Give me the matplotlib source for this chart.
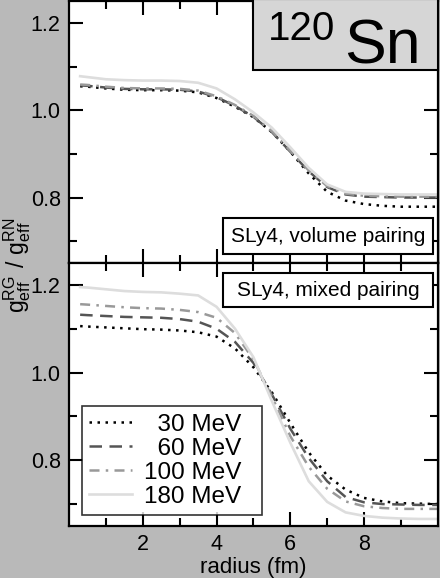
import numpy as np
import matplotlib
matplotlib.use("Agg")
import matplotlib.pyplot as plt
from matplotlib.patches import Rectangle

plt.rcParams['font.family'] = ['Liberation Sans', 'DejaVu Sans']
plt.rcParams['mathtext.fontset'] = 'custom'
plt.rcParams['mathtext.rm'] = 'Liberation Sans'

radius = [0.3, 0.5, 1.0, 1.5, 2.0, 2.5, 3.0, 3.5, 4.0, 4.5, 5.0, 5.5, 6.0,
          6.5, 7.0, 7.5, 8.0, 8.5, 9.0, 9.5, 10.0]

labels = ["  30 MeV  ", "  60 MeV  ", "100 MeV  ", "180 MeV  "]

# volume pairing
vol_30 = [1.055, 1.054, 1.050, 1.047, 1.046, 1.046, 1.045, 1.041, 1.028, 1.008,
          0.984, 0.950, 0.905, 0.855, 0.813, 0.793, 0.785, 0.781, 0.779, 0.779, 0.779]
vol_60 = [1.057, 1.056, 1.052, 1.049, 1.048, 1.048, 1.047, 1.043, 1.030, 1.010,
          0.985, 0.950, 0.905, 0.860, 0.824, 0.807, 0.802, 0.801, 0.800, 0.800, 0.800]
vol_100 = [1.059, 1.058, 1.054, 1.051, 1.050, 1.050, 1.049, 1.045, 1.032, 1.012,
           0.987, 0.952, 0.907, 0.862, 0.826, 0.809, 0.804, 0.803, 0.802, 0.802, 0.802]
vol_180 = [1.078, 1.076, 1.071, 1.069, 1.068, 1.068, 1.067, 1.063, 1.050, 1.025,
           0.995, 0.960, 0.915, 0.868, 0.830, 0.813, 0.809, 0.808, 0.807, 0.807, 0.807]

# mixed pairing
mix_30 = [1.106, 1.105, 1.103, 1.101, 1.099, 1.098, 1.096, 1.092, 1.082, 1.055,
          1.012, 0.955, 0.885, 0.818, 0.765, 0.733, 0.714, 0.706, 0.702, 0.701, 0.700]
mix_60 = [1.132, 1.131, 1.129, 1.127, 1.126, 1.125, 1.122, 1.116, 1.100, 1.070,
          1.022, 0.950, 0.872, 0.805, 0.752, 0.716, 0.704, 0.700, 0.699, 0.698, 0.698]
mix_100 = [1.156, 1.155, 1.152, 1.149, 1.147, 1.146, 1.143, 1.138, 1.125, 1.090,
           1.030, 0.945, 0.855, 0.785, 0.735, 0.706, 0.695, 0.691, 0.689, 0.689, 0.689]
mix_180 = [1.195, 1.194, 1.190, 1.186, 1.184, 1.183, 1.180, 1.176, 1.150, 1.100,
           1.035, 0.935, 0.840, 0.752, 0.705, 0.681, 0.673, 0.669, 0.667, 0.666, 0.666]

styles = [
    dict(color='black', linestyle=(0, (1, 2.2)), lw=1.8),
    dict(color='#555555', linestyle=(0, (5, 3)), lw=1.8),
    dict(color='#999999', linestyle=(0, (4, 2.5, 1, 2.5)), lw=1.8),
    dict(color='#dddddd', linestyle='-', lw=1.9),
]

bg = '#b9b9b9'
fig = plt.figure(figsize=(4.4, 5.78), dpi=100, facecolor=bg)
ax1 = fig.add_axes([0.157, 0.545, 0.838, 0.453])
ax2 = fig.add_axes([0.157, 0.090, 0.838, 0.455])

for ax, series in [(ax1, [vol_30, vol_60, vol_100, vol_180]),
                   (ax2, [mix_30, mix_60, mix_100, mix_180])]:
    for vals, lab, st in zip(series, labels, styles):
        ax.plot(radius, vals, label=lab, **st)
    ax.set_xlim(0, 10)
    ax.set_ylim(0.65, 1.25)
    ax.set_xticks([2, 4, 6, 8])
    ax.set_xticks([1, 3, 5, 7, 9], minor=True)
    ax.set_yticks([0.8, 1.0, 1.2])
    ax.set_yticks([0.7, 0.9, 1.1], minor=True)
    ax.tick_params(which='both', direction='in', top=True, right=True,
                   width=1.5, labelsize=15.5)
    ax.tick_params(which='major', length=10, pad=6)
    ax.tick_params(which='minor', length=6)
    for s in ax.spines.values():
        s.set_linewidth(1.6)

ax1.tick_params(labelbottom=False)
ax2.set_xlabel("radius (fm)", fontsize=16, labelpad=1)

# panel labels
ax1.add_patch(Rectangle((0.417, 0.034), 0.570, 0.138, transform=ax1.transAxes,
                        facecolor='white', edgecolor='black', lw=1.5, zorder=5))
ax1.text(0.702, 0.103, "SLy4, volume pairing", transform=ax1.transAxes,
         fontsize=15, ha='center', va='center', zorder=6)
ax2.add_patch(Rectangle((0.417, 0.833), 0.570, 0.129, transform=ax2.transAxes,
                        facecolor='white', edgecolor='black', lw=1.5, zorder=5))
ax2.text(0.702, 0.897, "SLy4, mixed pairing", transform=ax2.transAxes,
         fontsize=15, ha='center', va='center', zorder=6)

# nucleus label
ax1.add_patch(Rectangle((0.499, 0.737), 0.501, 0.27, transform=ax1.transAxes,
                        facecolor='#d6d6d6', edgecolor='black', lw=1.5,
                        clip_on=False, zorder=5))
fig.text(0.782, 0.891, "Sn", fontsize=45, ha='left', va='baseline', zorder=6)
fig.text(0.609, 0.931, "120", fontsize=29, ha='left', va='baseline', zorder=6)

leg = ax2.legend(loc='lower left', bbox_to_anchor=(0.035, 0.042), borderaxespad=0,
                 fontsize=17.5, frameon=True, fancybox=False, handlelength=1.75,
                 labelspacing=0.08, handletextpad=0.5, borderpad=0.3)
leg.get_frame().set_edgecolor('black')
leg.get_frame().set_linewidth(1.2)

fig.text(0.038, 1 - 265 / 578,
         r"$\mathrm{g}_{\mathrm{eff}}^{\mathrm{RG}}\ /\ \mathrm{g}_{\mathrm{eff}}^{\mathrm{RN}}$",
         rotation=90, ha='center', va='center', fontsize=16.5)

fig.savefig("out.png", dpi=100, facecolor=bg)
